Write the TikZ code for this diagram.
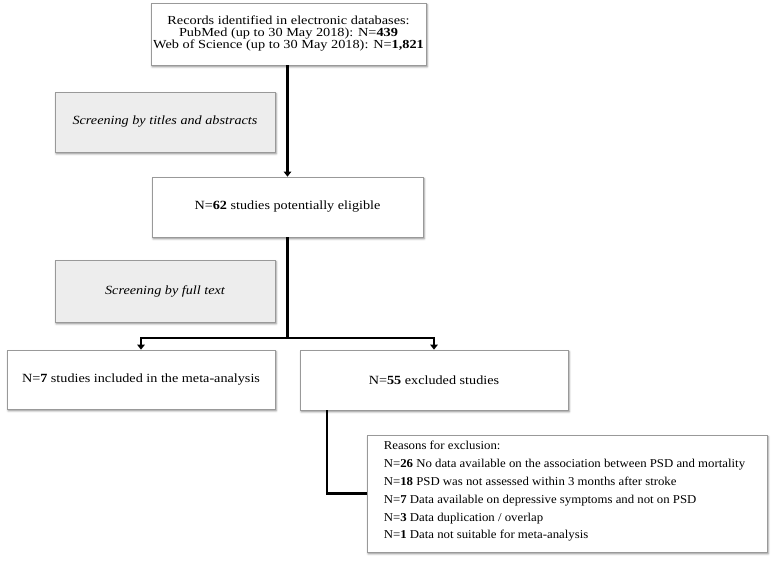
\documentclass[tikz,border=0pt]{standalone}
\usepackage{fontspec}
\usepackage{graphicx}
\setmainfont{Liberation Serif}
\usetikzlibrary{arrows.meta,shadows.blur}
\newcommand{\vsq}[2]{\scalebox{1}[#1]{#2}}
\begin{document}
\begin{tikzpicture}[x=1pt,y=-1pt,
  box/.style={draw=black!40, line width=0.7pt, fill=white, align=center, inner sep=0pt,
    blur shadow={shadow xshift=1.2pt, shadow yshift=-1.8pt, shadow blur radius=2pt, shadow opacity=45},
    font=\fontsize{14.2}{15}\selectfont},
  graybox/.style={box, fill=black!7, font=\fontsize{14.2}{15}\selectfont\itshape},
  link/.style={line width=2.5pt, black},
  arr/.style={link, -{Triangle[length=5pt,width=7.5pt]}}]
\useasboundingbox (0,0) rectangle (773,561);
\node[box, minimum width=275, minimum height=62, font=\fontsize{14.3}{13.4}\selectfont] (rec) at (288.5,34)
  {\vsq{0.86}{\begin{tabular}{@{}c@{}}Records identified in electronic databases:\\
   PubMed (up to 30 May 2018): N=\textbf{439}\\
   Web of Science (up to 30 May 2018): N=\textbf{1,821}\end{tabular}}};
\node[graybox, minimum width=220, minimum height=60] (scr1) at (165,122) {\vsq{0.88}{Screening by titles and abstracts}};
\node[box, minimum width=271, minimum height=60] (n62) at (287.5,207) {\vsq{0.88}{N=\textbf{62} studies potentially eligible}};
\node[graybox, minimum width=220, minimum height=62] (scr2) at (165,291) {\vsq{0.88}{Screening by full text}};
\node[box, minimum width=268, minimum height=59] (n7) at (141,379.5) {\vsq{0.88}{N=\textbf{7} studies included in the meta-analysis}};
\node[box, minimum width=268, minimum height=60] (n55) at (434,380) {\vsq{0.88}{N=\textbf{55} excluded studies}};
\node[box, minimum width=400, minimum height=117] (rsn) at (567,493.5) {};
\node[anchor=west, inner sep=0pt, font=\fontsize{12.8}{19.1}\selectfont] (rsntext) at ([xshift=17pt,yshift=3pt]rsn.west)
  {\vsq{0.94}{\begin{tabular}{@{}l@{}}Reasons for exclusion:\\
   N=\textbf{26} No data available on the association between PSD and mortality\\
   N=\textbf{18} PSD was not assessed  within 3 months after stroke\\
   N=\textbf{7} Data available on depressive symptoms and not on PSD\\
   N=\textbf{3} Data duplication / overlap\\
   N=\textbf{1} Data not suitable for meta-analysis\end{tabular}}};
\coordinate (br) at (287.5,338);
\coordinate (ex) at (327,410);
\draw[arr] (rec.south -| n62.north) -- (n62.north);
\draw[link] (n62.south) -- (br);
\draw[arr] (br) -| (n7.north);
\draw[arr] (br) -| (n55.north);
\draw[link] (ex) |- (rsn.west);
\end{tikzpicture}
\end{document}
